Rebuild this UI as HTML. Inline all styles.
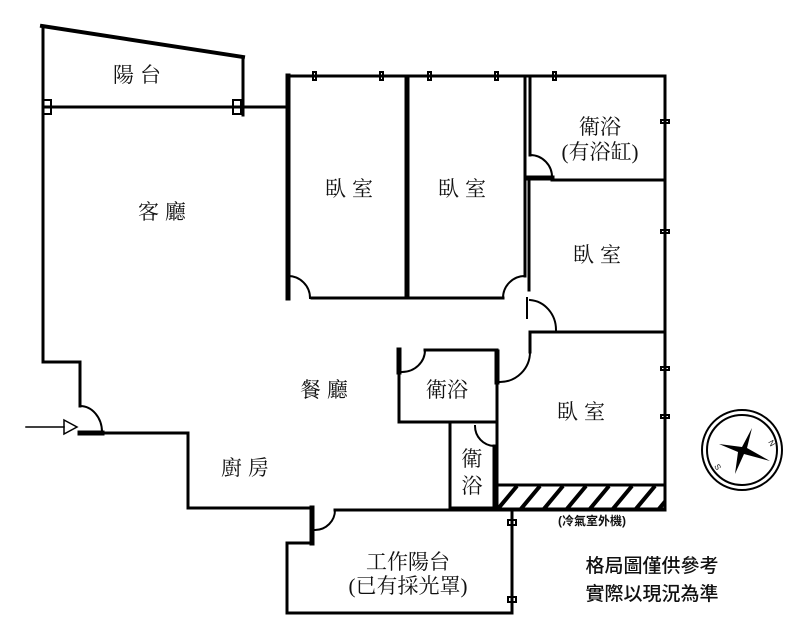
<!DOCTYPE html>
<html><head><meta charset="utf-8"><style>
body{margin:0;background:#fff}
svg{display:block}
text{font-family:"Liberation Serif","Noto Serif CJK TC","Noto Serif CJK SC",serif;fill:#111}
.s{font-family:"Liberation Sans","Noto Sans CJK TC",sans-serif}
</style></head><body>
<svg width="800" height="630" viewBox="0 0 800 630" xmlns="http://www.w3.org/2000/svg">
<g fill="none" stroke="#000" stroke-width="3" stroke-linecap="square">
<path d="M42,26 L243,57" stroke-width="4"/>
<path d="M43,29 L242,60" stroke="#fff" stroke-width="1"/>
<path d="M243,58 V115"/>
<path d="M43,107 H287"/>
<rect x="43" y="100" width="8" height="14" stroke-width="2"/>
<rect x="233" y="100" width="8" height="14" stroke-width="2"/>
<path d="M43,26 V362 H80 V406"/>
<path d="M80,406 A22,26 0 0 1 102,432" stroke-width="2"/>
<path d="M80,433 H188 V508 H310"/>
<path d="M80,433 H102" stroke-width="5"/>
<path d="M312,508 V543" stroke-width="5"/>
<path d="M315,530 A20,20 0 0 0 335,510" stroke-width="2"/>
<path d="M312,543 H287 V613 H512 V510 M335,510 H665"/>
<path d="M287,76 H665 V510"/>
<path d="M288,76 V298" stroke-width="5"/>
<path d="M288,276 A22,22 0 0 1 310,298" stroke-width="2"/>
<path d="M312,298 H503"/>
<path d="M407,78 V297" stroke-width="5"/>
<path d="M525,78 V276"/>
<path d="M525,276 A22,22 0 0 0 503,298" stroke-width="2"/>
<path d="M527,298 V318" stroke-width="2"/>
<path d="M530,300 A28,30 0 0 1 556,330" stroke-width="2"/>
<path d="M530,78 V155"/>
<path d="M530,155 A22,22 0 0 1 552,178" stroke-width="2"/>
<path d="M527,178 H552" stroke-width="5"/>
<path d="M552,180 H665"/>
<path d="M529,182 V290"/>
<path d="M530,332 H665"/>
<path d="M530,334 V352"/>
<path d="M530,352 A30,30 0 0 1 500,382" stroke-width="2"/>
<path d="M497,352 V382" stroke-width="5"/>
<path d="M497,382 V485"/>
<path d="M399,350 V372" stroke-width="5"/>
<path d="M399,372 V422 H497"/>
<path d="M402,372 A23,22 0 0 0 425,350" stroke-width="2"/>
<path d="M425,350 H497"/>
<path d="M450,422 V508 H497"/>
<path d="M475,426 A20,20 0 0 0 494,446" stroke-width="2"/>
<path d="M494,446 V508"/>
<rect x="497" y="485" width="168" height="24" stroke-width="3"/>
<g stroke-width="2">
<rect x="313" y="72" width="3" height="8"/><rect x="380" y="72" width="3" height="8"/>
<rect x="428" y="72" width="3" height="8"/><rect x="495" y="72" width="3" height="8"/>
<rect x="553" y="72" width="3" height="8"/><rect x="661" y="120" width="8" height="3"/>
<rect x="661" y="230" width="8" height="3"/><rect x="661" y="367" width="8" height="3"/>
<rect x="661" y="415" width="8" height="3"/>
<rect x="508" y="520" width="8" height="5"/><rect x="508" y="597" width="8" height="5"/>
</g>
<path d="M26,427 H64" stroke-width="1.5"/>
<path d="M64,420 L77,427 L64,434 Z" stroke-width="1.5"/>
</g>
<g stroke="#000" stroke-width="4" clip-path="url(#c)">
<clipPath id="c"><rect x="498" y="486" width="166" height="22"/></clipPath>
<path d="M497,510 L517,486 M520,510 L540,486 M543,510 L563,486 M566,510 L586,486 M589,510 L609,486 M612,510 L632,486 M635,510 L655,486 M658,510 L678,486"/>
</g>
<g fill="none" stroke="#000" stroke-width="2">
<circle cx="742" cy="450" r="40"/><circle cx="742" cy="450" r="35"/>
</g>
<path d="M752,428 L747,448 L770,461 L744,454 L735,474 L738,452 L719,444 L742,447 Z" fill="#000"/>
<text class="s" x="768" y="442" font-size="8" transform="rotate(60 768 442)">N</text>
<text class="s" x="714" y="466" font-size="8" transform="rotate(60 714 466)">S</text>
<g font-size="21" text-anchor="middle">
<text x="140" y="82" letter-spacing="6">陽台</text>
<text x="165" y="219" letter-spacing="6">客廳</text>
<text x="352" y="196" letter-spacing="6">臥室</text>
<text x="465" y="196" letter-spacing="6">臥室</text>
<text x="600" y="134">衛浴</text>
<text x="600" y="159">(有浴缸)</text>
<text x="600" y="262" letter-spacing="6">臥室</text>
<text x="327" y="397" letter-spacing="6">餐廳</text>
<text x="447" y="397">衛浴</text>
<text x="584" y="419" letter-spacing="6">臥室</text>
<text x="472" y="466">衛</text>
<text x="472" y="493">浴</text>
<text x="248" y="475" letter-spacing="6">廚房</text>
<text x="408" y="569">工作陽台</text>
<text x="408" y="593">(已有採光罩)</text>
<text class="s" x="652" y="572" font-size="19" font-weight="500">格局圖僅供參考</text>
<text class="s" x="652" y="600" font-size="19" font-weight="500">實際以現況為準</text>
</g>
<text class="s" x="592" y="525" font-size="12" text-anchor="middle" font-weight="bold">(冷氣室外機)</text>
</svg>
</body></html>
